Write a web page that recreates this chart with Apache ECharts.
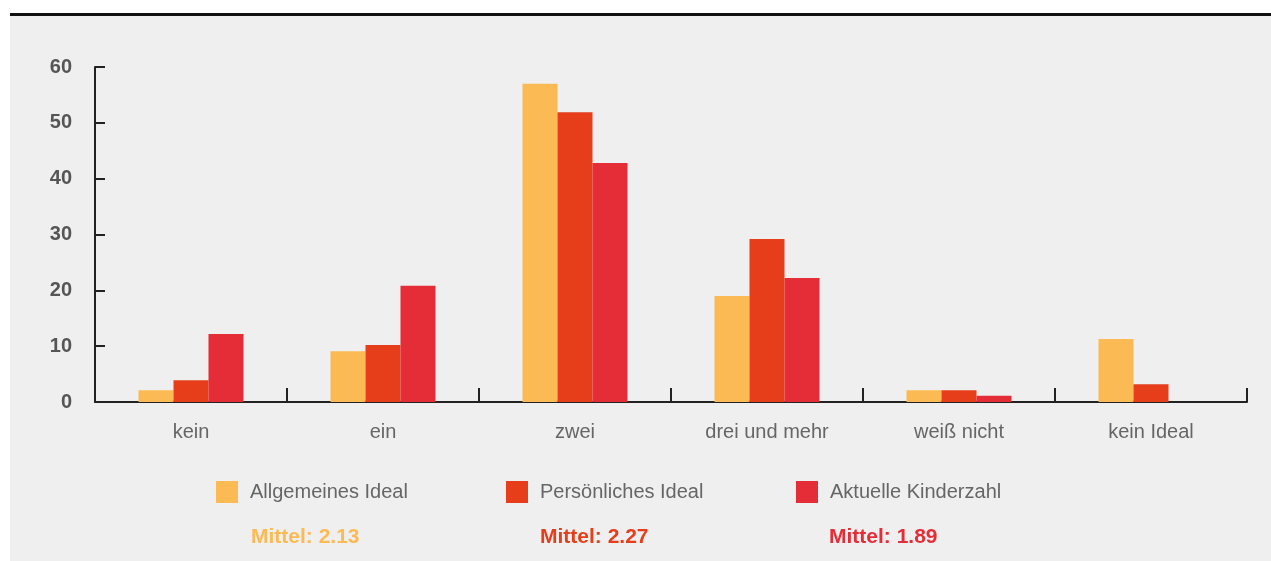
<!DOCTYPE html>
<html>
<head>
    <meta charset="UTF-8">
    <title>Kinderzahl</title>
    <script src="https://cdn.jsdelivr.net/npm/echarts@6/dist/echarts.min.js"></script>
    <style>
        html, body { margin: 0; padding: 0; background: #ffffff; }
        #main { width: 1271px; height: 561px; }
    </style>
</head>
<body>
    <div id="main"></div>
    <script type="text/javascript">
        // Kategorien und Werte
        const categories = ['kein', 'ein', 'zwei', 'drei und mehr', 'weiß nicht', 'kein Ideal'];
        const allgemeines = [2.1, 9.1, 57.0, 19.0, 2.1, 11.3];
        const persoenliches = [3.9, 10.2, 51.9, 29.2, 2.1, 3.2];
        const aktuelle = [12.2, 20.8, 42.8, 22.2, 1.1, 0];
        const seriesNames = ['Allgemeines Ideal', 'Persönliches Ideal', 'Aktuelle Kinderzahl'];
        const mittel = ['Mittel: 2.13', 'Mittel: 2.27', 'Mittel: 1.89'];

        const colors = ['#FBBA53', '#E63E1A', '#E52D38'];
        const font = '"Liberation Sans", Arial, sans-serif';

        var myChart = echarts.init(document.getElementById('main'));

        const legendLeft = [216, 506, 796];
        const mittelLeft = [251, 540, 829];

        var option = {
            animation: false,
            graphic: [
                { type: 'rect', z: -10, shape: { x: 10, y: 15, width: 1261, height: 546 }, style: { fill: '#efefef' } },
                { type: 'rect', z: -9, shape: { x: 10, y: 13, width: 1261, height: 3 }, style: { fill: '#111111' } }
            ].concat(mittel.map((t, i) => ({
                type: 'text',
                left: mittelLeft[i],
                top: 527,
                style: {
                    text: t,
                    fill: colors[i],
                    font: 'bold 21px ' + font
                }
            }))),
            legend: seriesNames.map((n, i) => ({
                data: [n],
                left: legendLeft[i],
                top: 481,
                padding: 0,
                itemWidth: 22,
                itemHeight: 22,
                icon: 'rect',
                textStyle: { color: '#666666', fontSize: 20, fontFamily: font, padding: [0, 0, 0, 7] }
            })),
            grid: { left: 95, right: 24, top: 67, bottom: 159 },
            xAxis: {
                type: 'category',
                data: categories,
                axisLine: { lineStyle: { color: '#222222', width: 2 } },
                axisTick: { show: true, interval: 0, inside: true, length: 14, lineStyle: { color: '#222222', width: 2 } },
                axisLabel: { color: '#666666', fontSize: 20, fontFamily: font, margin: 20 }
            },
            yAxis: {
                type: 'value',
                min: 0,
                max: 60,
                interval: 10,
                axisLine: { show: true, lineStyle: { color: '#222222', width: 2 } },
                axisTick: { show: true, inside: true, length: 10, lineStyle: { color: '#222222', width: 2 } },
                splitLine: { show: false },
                axisLabel: { color: '#555555', fontSize: 20, fontWeight: 'bold', fontFamily: font, margin: 23 }
            },
            series: [allgemeines, persoenliches, aktuelle].map((d, i) => ({
                name: seriesNames[i],
                type: 'bar',
                data: d,
                barWidth: 35,
                barGap: '0%',
                itemStyle: { color: colors[i] }
            }))
        };

        myChart.setOption(option);
    </script>
</body>
</html>
